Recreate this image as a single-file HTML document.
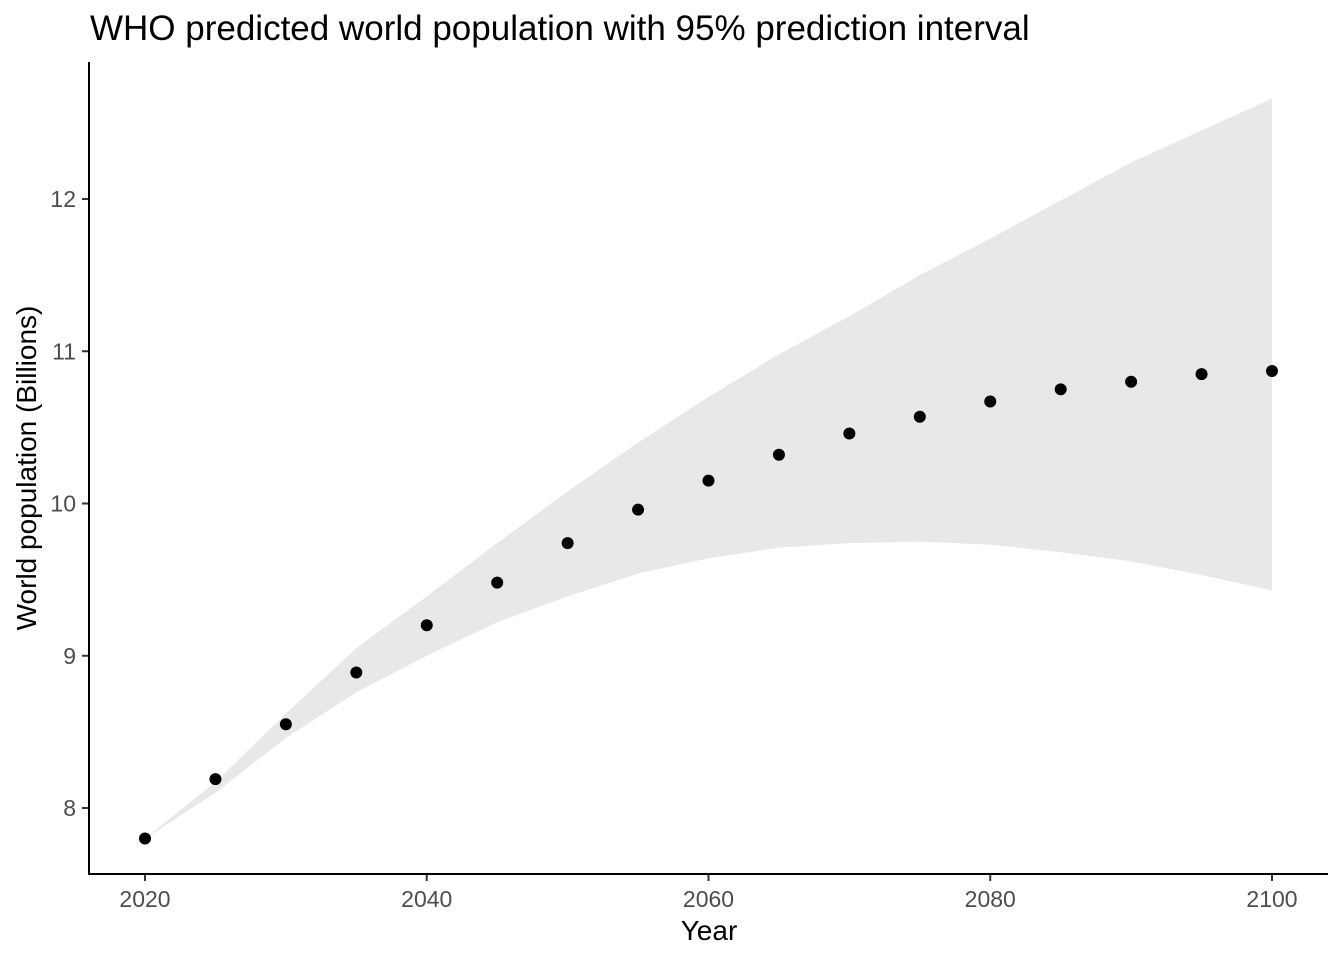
<!DOCTYPE html>
<html><head><meta charset="utf-8"><style>
body{margin:0;background:#fff;}
svg text{font-family:"Liberation Sans",Arial,sans-serif;}
</style></head><body>
<svg width="1344" height="960" xmlns="http://www.w3.org/2000/svg">
<text x="90" y="40" font-size="35" fill="#000">WHO predicted world population with 95% prediction interval</text>
<g id="plot"></g>
<line x1="89" y1="62" x2="89" y2="875" stroke="#000" stroke-width="2"/>
<line x1="88" y1="874" x2="1328" y2="874" stroke="#000" stroke-width="2"/>
<text x="709" y="940" font-size="28" text-anchor="middle">Year</text>
<text transform="translate(36,468) rotate(-90)" font-size="28" text-anchor="middle">World population (Billions)</text>
</svg>
<script>
const years=[2020,2025,2030,2035,2040,2045,2050,2055,2060,2065,2070,2075,2080,2085,2090,2095,2100];
const pop=[7.80,8.19,8.55,8.89,9.20,9.48,9.74,9.96,10.15,10.32,10.46,10.57,10.67,10.75,10.80,10.85,10.87];
const upper=[7.80,8.17,8.62,9.05,9.39,9.74,10.08,10.40,10.70,10.98,11.23,11.50,11.74,11.99,12.24,12.45,12.66];
const lower=[7.80,8.10,8.46,8.76,9.00,9.22,9.39,9.54,9.64,9.71,9.74,9.75,9.73,9.68,9.62,9.53,9.43];
const xTicks=[2020,2040,2060,2080,2100];
const yTicks=[8,9,10,11,12];
const NS="http://www.w3.org/2000/svg";
const xs=v=>145+(v-2020)*(1272-145)/80;
const ys=v=>808-(v-8)*152.25;
const g=document.getElementById('plot');
function mk(t,a){const e=document.createElementNS(NS,t);for(const k in a)e.setAttribute(k,a[k]);g.appendChild(e);return e;}
let d='M'+years.map((y,i)=>xs(y)+','+ys(upper[i])).join(' L');
for(let i=years.length-1;i>=0;i--)d+=' L'+xs(years[i])+','+ys(lower[i]);
const band=mk('path',{d:d+'Z',fill:'#e8e8e8'});


years.forEach((y,i)=>{
 const c=mk('circle',{cx:xs(y),cy:ys(pop[i]),r:6,fill:'#000'});
 
 
});
xTicks.forEach(t=>{
 const l=mk('line',{x1:xs(t),x2:xs(t),y1:874,y2:881,stroke:'#333','stroke-width':2});
 
 
 const tx=mk('text',{x:xs(t),y:907,'font-size':23,fill:'#4d4d4d','text-anchor':'middle'});
 tx.textContent=t;
 
 
});
yTicks.forEach(t=>{
 const l=mk('line',{x1:82,x2:89,y1:ys(t),y2:ys(t),stroke:'#333','stroke-width':2});
 
 
 const tx=mk('text',{x:76,y:ys(t)+8,'font-size':23,fill:'#4d4d4d','text-anchor':'end'});
 tx.textContent=t;
 
 
});
</script>
</body></html>
